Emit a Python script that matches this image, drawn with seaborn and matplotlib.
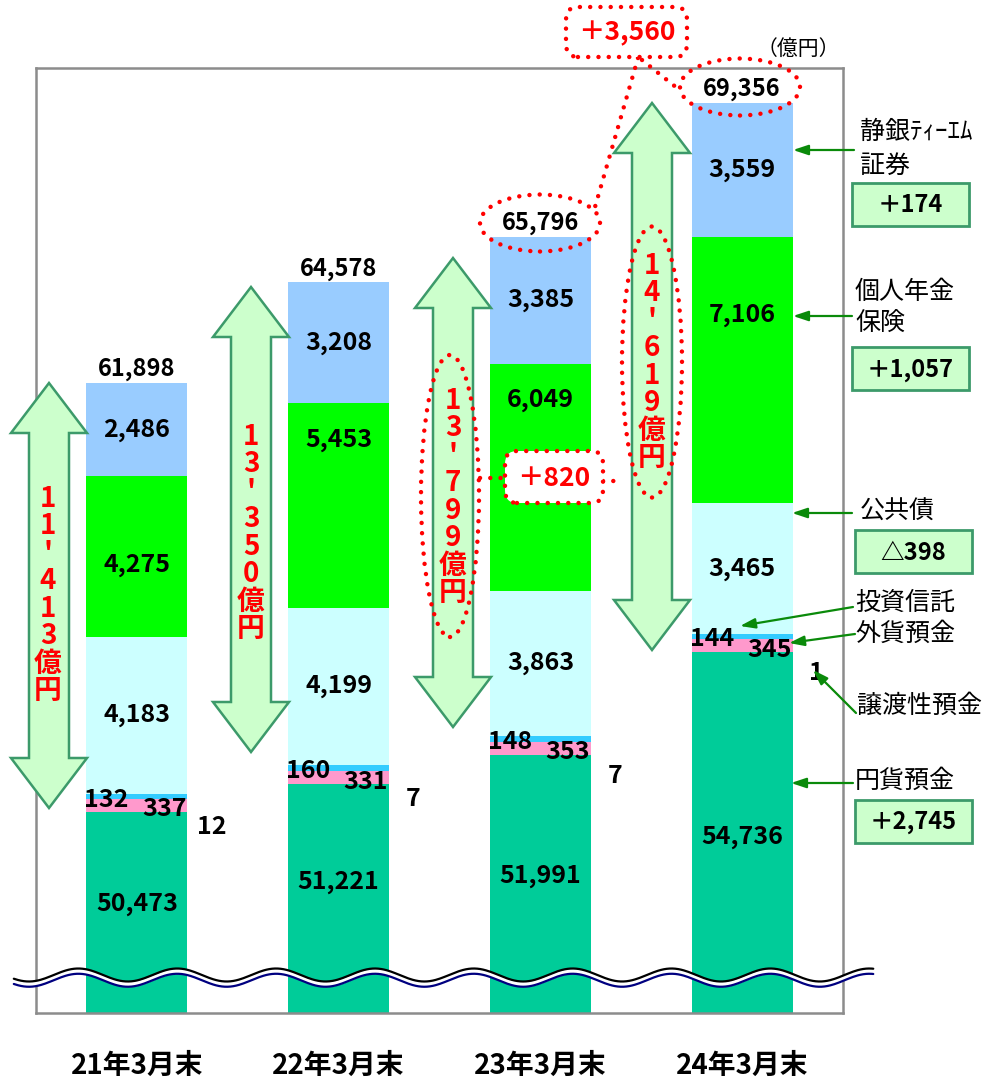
import numpy as np
import pandas as pd
import matplotlib
matplotlib.use("Agg")
import matplotlib.pyplot as plt
import seaborn as sns
from matplotlib.patches import Polygon, Ellipse, FancyBboxPatch, Rectangle, FancyArrowPatch
from matplotlib.lines import Line2D

sns.set_theme(style="white")
plt.rcParams["font.family"] = ["Noto Sans CJK JP", "DejaVu Sans"]

# ---------------- data ----------------
categories = ["21年3月末", "22年3月末", "23年3月末", "24年3月末"]
yen_deposits = [50473, 51221, 51991, 54736]      # 円貨預金
ncd_deposits = [12, 7, 7, 1]                     # 譲渡性預金
fx_deposits = [337, 331, 353, 345]               # 外貨預金
inv_trusts = [132, 160, 148, 144]                # 投資信託
public_bonds = [4183, 4199, 3863, 3465]          # 公共債
pension_ins = [4275, 5453, 6049, 7106]           # 個人年金保険
securities = [2486, 3208, 3385, 3559]            # 静銀ティーエム証券
totals = [61898, 64578, 65796, 69356]
non_yen_labels = ["11，413億円", "13，350億円", "13，799億円", "14，619億円"]
change_labels = {"証券": "＋174", "年金": "＋1,057", "公共債": "△398", "円貨": "＋2,745"}
total_change = "＋3,560"
pension_change = "＋820"

# label position tweaks (points, vertical)
pension_label_dy = [-6, 47, 56, 40]
yen_label_dy = [6, 12, 6, -3]

W, H = 994, 1083
fig = plt.figure(figsize=(W / 100, H / 100), dpi=100)
ax = fig.add_axes([36 / W, 1 - 1013 / H, (843 - 36) / W, (1013 - 68) / H])


def F(x, y):
    """pixel (top-left origin) -> figure fraction"""
    return (x / W, 1 - y / H)


series = [
    ("円貨預金", yen_deposits, "#00CC99"),
    ("譲渡性預金", ncd_deposits, "#FFFF99"),
    ("外貨預金", fx_deposits, "#FF99CC"),
    ("投資信託", inv_trusts, "#33CCFF"),
    ("公共債", public_bonds, "#CCFFFF"),
    ("個人年金保険", pension_ins, "#00FF00"),
    ("証券", securities, "#99CCFF"),
]
cum = np.cumsum(np.array([s[1] for s in series]), axis=0)
df = pd.DataFrame({"cat": categories})
for i, (name, vals, col) in enumerate(series):
    df[name] = cum[i]

# draw cumulative bars from top layer down (overlay stacking)
for i in range(len(series) - 1, -1, -1):
    name, vals, col = series[i]
    sns.barplot(data=df, x="cat", y=name, color=col, width=0.5, saturation=1,
                linewidth=0, edgecolor="none", ax=ax, order=categories)

ax.set_xlim(-0.5, 3.5)
ax.set_ylim(45120, 70290)
ax.set_xlabel("")
ax.set_ylabel("")
ax.set_yticks([])
ax.set_xticks(range(4))
ax.set_xticklabels(categories, fontsize=20, fontweight="bold", color="black")
ax.tick_params(axis="x", which="major", length=0, pad=28)
ax.set_xticks([0.5, 1.5, 2.5], minor=True)
ax.tick_params(axis="x", which="minor", direction="in", length=9, width=1, color="#8C8C8C")
for sp in ax.spines.values():
    sp.set_color("#8C8C8C")
    sp.set_linewidth(1.8)

lab = dict(ha="center", va="center", fontsize=18, fontweight="bold", color="black")
ymin = ax.get_ylim()[0]
for i in range(4):
    for k in (4, 5, 6):
        ctr = cum[k - 1][i] + series[k][1][i] / 2
        dy = pension_label_dy[i] if k == 5 else 0
        ax.annotate(f"{series[k][1][i]:,}", (i, ctr), xytext=(0, dy),
                    textcoords="offset points", **lab)
    ax.annotate(f"{yen_deposits[i]:,}", (i, (ymin + cum[0][i]) / 2), xytext=(0, yen_label_dy[i]),
                textcoords="offset points", **lab)
    ax.annotate(f"{totals[i]:,}", (i, cum[6][i]), xytext=(0, 10),
                textcoords="offset points", ha="center", va="center",
                fontsize=17, fontweight="bold", color="black")
    ax.annotate(f"{inv_trusts[i]}", (i - 0.15, cum[3][i]), xytext=(0, -4),
                textcoords="offset points", **lab)
    ax.annotate(f"{fx_deposits[i]}", (i + 0.135, (cum[1][i] + cum[2][i]) / 2), xytext=(0, -3),
                textcoords="offset points", **lab)
    ax.annotate(f"{ncd_deposits[i]}", (i + 0.37, cum[0][i]), xytext=(0, -11 if i < 2 else -15),
                textcoords="offset points", **lab)

# ---------------- wave break ----------------
xw = np.linspace(-0.61, 3.65, 600)
P = 0.49
yb = 46132 + 173 * np.sin(2 * np.pi * (xw - 0.0775) / P)
yn = yb - 140
ax.fill_between(xw, yn, yb, color="white", zorder=5, clip_on=False, linewidth=0)
ax.plot(xw, yb, color="black", lw=1.6, zorder=6, clip_on=False)
ax.plot(xw, yn, color="#000080", lw=1.6, zorder=6, clip_on=False)

# ---------------- double arrows ----------------
arrows = [(49, 383, 808), (251, 287, 752), (453, 258, 727), (652, 103, 650)]
text_centers = [(48, 595), (251, 533), (453, 497), (652, 362)]
for (cx, ty, by), (tx, tyc), txt in zip(arrows, text_centers, non_yen_labels):
    hh, sh, hl = 38, 20, 50
    pts = [(cx, ty), (cx + hh, ty + hl), (cx + sh, ty + hl), (cx + sh, by - hl), (cx + hh, by - hl),
           (cx, by), (cx - hh, by - hl), (cx - sh, by - hl), (cx - sh, ty + hl), (cx - hh, ty + hl)]
    poly = Polygon([F(*p) for p in pts], closed=True, transform=fig.transFigure,
                   facecolor="#CCFFCC", edgecolor="#3C9A6A", lw=1.8, zorder=3)
    fig.add_artist(poly)
    vtxt = "\n".join("'" if ch == "，" else ch for ch in txt)
    fig.text(*F(tx, tyc), vtxt, ha="center", va="center", multialignment="center",
             fontsize=20, fontweight="bold", color="#FF0000", linespacing=0.98, zorder=4)

# ---------------- red dotted callouts ----------------
dot = dict(edgecolor="#FF0000", lw=3.2, linestyle=(0, (0.01, 2.3)), capstyle="round")


def ell(cx, cy, w, h, fc="none"):
    e = Ellipse(F(cx, cy), w / W, h / H, transform=fig.transFigure, facecolor=fc, zorder=6, **dot)
    fig.add_artist(e)


def dline(x0, y0, x1, y1):
    l = Line2D([x0 / W, x1 / W], [1 - y0 / H, 1 - y1 / H], transform=fig.transFigure,
               color="#FF0000", lw=3.2, linestyle=(0, (0.01, 2.3)),
               dash_capstyle="round", zorder=6)
    fig.add_artist(l)


def dbox(x0, y0, x1, y1, txt):
    b = FancyBboxPatch(F(x0, y1), (x1 - x0) / W, (y1 - y0) / H,
                       boxstyle="round,pad=0,rounding_size=0.012", transform=fig.transFigure,
                       facecolor="white", zorder=6, **dot)
    fig.add_artist(b)
    fig.text(*F((x0 + x1) / 2, (y0 + y1) / 2 + 1), txt, ha="center", va="center",
             fontsize=19, fontweight="bold", color="#FF0000", zorder=7)


ell(540, 223, 120, 57)
ell(740, 87, 120, 57)
ell(450, 496, 58, 282)
ell(652, 362, 60, 271)
dline(638, 58, 595, 207)
dline(642, 60, 682, 92)
dline(480, 478, 505, 478)
dline(603, 481, 623, 481)
dbox(566, 7, 687, 57, total_change)
dbox(505, 451, 603, 503, pension_change)

fig.text(*F(798, 49), "（億円）", ha="center", va="center", fontsize=15, color="black")

# ---------------- right-side legend labels ----------------
green = "#0A8A0A"
arrow_kw = dict(arrowstyle="-|>,head_length=0.9,head_width=0.3", color=green, lw=1.6)


def garrow(x0, y0, x1, y1):
    fig.add_artist(FancyArrowPatch(F(x0, y0), F(x1, y1), transform=fig.transFigure,
                                   mutation_scale=10, shrinkA=0, shrinkB=0, **arrow_kw))


def ltext(x, y, s):
    fig.text(*F(x, y), s, ha="left", va="center", fontsize=18, color="black")


def gbox(x0, y0, x1, y1, s):
    r = Rectangle(F(x0, y1), (x1 - x0) / W, (y1 - y0) / H, transform=fig.transFigure,
                  facecolor="#CCFFCC", edgecolor="#3C9A6A", lw=2)
    fig.add_artist(r)
    fig.text(*F((x0 + x1) / 2, (y0 + y1) / 2 + 1), s, ha="center", va="center",
             fontsize=17, fontweight="bold", color="black")


ltext(860, 132, "静銀ﾃｨｰｴﾑ")
ltext(860, 166, "証券")
garrow(854, 150, 793, 150)
gbox(852, 183, 969, 226, change_labels["証券"])

ltext(855, 292, "個人年金")
ltext(855, 324, "保険")
garrow(852, 316, 793, 316)
gbox(852, 347, 969, 390, change_labels["年金"])

ltext(860, 512, "公共債")
garrow(852, 513, 792, 513)
gbox(855, 530, 972, 573, change_labels["公共債"])

ltext(855, 603, "投資信託")
garrow(853, 607, 740, 626)
ltext(855, 634, "外貨預金")
garrow(855, 634, 789, 643)
ltext(857, 706, "譲渡性預金")
garrow(856, 713, 813, 670)

ltext(855, 781, "円貨預金")
garrow(853, 783, 791, 783)
gbox(855, 800, 972, 843, change_labels["円貨"])

fig.savefig("out.png", dpi=100)
